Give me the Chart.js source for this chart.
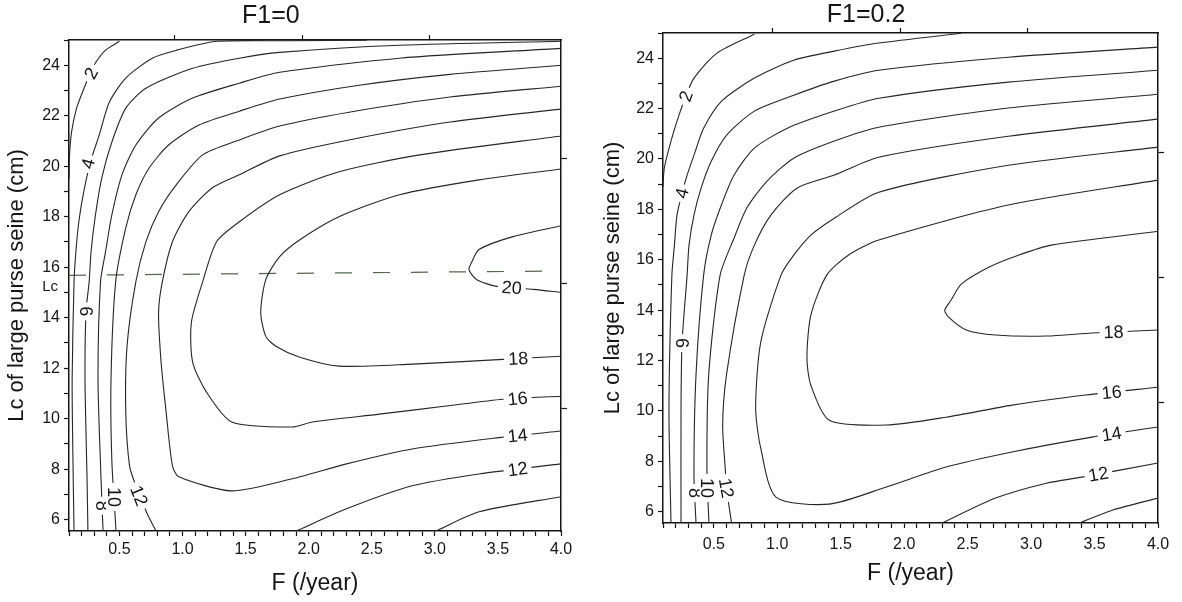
<!DOCTYPE html>
<html>
<head>
<meta charset="utf-8">
<title>Yield contours</title>
<script src="https://cdn.jsdelivr.net/npm/chart.js@4.4.0/dist/chart.umd.min.js"></script>
<style>
  html, body { margin: 0; padding: 0; background: #fff; }
  body { width: 1182px; height: 602px; position: relative; overflow: hidden; }
  .panel { position: absolute; top: 0; height: 602px; }
  #left { left: 0; width: 592px; }
  #right { left: 600px; width: 582px; }
</style>
</head>
<body>
<div class="panel" id="left"><canvas id="chartF0"></canvas></div>
<div class="panel" id="right"><canvas id="chartF02"></canvas></div>
<script>
// axis ranges
const fRange = [0.1, 4.0];
const lcRange = [5.55, 25];

// ---- F1 = 0 : contour lines, [F, Lc] ----
const f0_c2 = [[0.50,24.95],[0.39,24.6],[0.31,24.1],[0.27,23.7],[0.22,23.1],[0.16,22.3],[0.12,21.35],[0.105,20.5],[0.1,19.5]];
const f0_c4 = [[2.46,24.99],[1.85,24.97],[1.27,24.95],[0.95,24.59],[0.76,24.28],[0.55,23.49],[0.42,22.54],[0.34,21.24],[0.275,20.25],[0.22,19.07],[0.18,17.88],[0.156,16.7],[0.14,15.43],[0.125,11.56],[0.13,8.8],[0.14,5.55]];
const f0_c6 = [[4.0,24.95],[2.72,24.79],[1.77,24.51],[1.45,24.28],[1.08,23.88],[0.71,23.09],[0.55,22.3],[0.44,20.96],[0.36,19.54],[0.31,18.08],[0.275,16.62],[0.26,15.43],[0.235,14.25],[0.227,11.56],[0.243,7.62],[0.25,5.55]];
const f0_c8 = [[4.0,24.67],[2.72,24.28],[1.77,23.72],[1.45,23.29],[1.08,22.7],[0.81,21.91],[0.63,20.84],[0.52,19.66],[0.44,18.08],[0.39,16.62],[0.35,15.43],[0.33,11.56],[0.354,7.62],[0.37,5.55]];
const f0_c10 = [[4.0,24.0],[3.12,23.64],[2.4,23.21],[1.77,22.66],[1.45,22.18],[1.13,21.63],[0.89,20.84],[0.735,19.93],[0.63,18.87],[0.55,17.56],[0.47,15.43],[0.433,11.56],[0.44,8.29],[0.473,5.55]];
const f0_c10b = [[3.01,5.55],[3.35,6.31],[4.0,6.91]];
const f0_c12 = [[4.0,23.17],[3.12,22.74],[2.32,22.14],[1.77,21.59],[1.45,21.04],[1.16,20.45],[0.95,19.26],[0.81,18.2],[0.71,17.01],[0.63,15.43],[0.56,12.87],[0.55,10.26],[0.58,8.13],[0.63,7.34],[0.72,6.23],[0.79,5.55]];
const f0_c12b = [[1.9,5.55],[2.3,6.43],[2.82,7.34],[3.35,7.81],[4.0,8.21]];
const f0_c14 = [[4.0,22.26],[3.12,21.75],[2.32,21.04],[1.77,20.41],[1.45,19.66],[1.235,19.14],[1.05,18.2],[0.92,17.01],[0.84,15.43],[0.81,14.21],[0.83,12.24],[0.87,10.26],[0.92,8.13],[0.97,7.7],[1.39,7.14],[1.87,7.62],[2.3,8.21],[2.82,8.8],[3.54,9.27],[4.0,9.51]];
const f0_c16 = [[4.0,21.2],[2.88,20.45],[2.24,19.78],[1.77,18.87],[1.45,17.8],[1.27,17.01],[1.16,15.43],[1.07,13.81],[1.08,12.24],[1.19,11.05],[1.39,9.87],[1.87,9.67],[2.03,9.87],[2.56,10.18],[3.09,10.5],[3.54,10.77],[4.0,10.89]];
const f0_c18 = [[4.0,19.89],[3.35,19.46],[2.72,18.87],[2.24,18.0],[1.93,17.09],[1.77,16.42],[1.66,15.51],[1.62,14.21],[1.66,13.26],[1.74,12.87],[1.93,12.43],[2.24,12.08],[2.82,12.16],[3.54,12.35],[4.0,12.47]];
const f0_c20 = [[4.0,17.64],[3.62,17.21],[3.35,16.7],[3.29,16.18],[3.27,15.91],[3.33,15.51],[3.49,15.24],[3.78,15.12],[4.0,15.0]];
const f0_lcLine = [[0.1,15.68],[4.0,15.85]];
const f0_lcText = 15.22;
const f0_labelText = ['2','4','6','8','10','12','12','14','16','18','20'];
const f0_labelAt = [[0.275,23.68],[0.25,20.1],[0.235,14.25],[0.362,6.55],[0.457,6.9],[0.656,6.95],[3.656,8.0],[3.656,9.33],[3.656,10.8],[3.66,12.38],[3.61,15.19]];
const f0_topMarks = [0.94, 1.95, 2.96];
const f0_rightMarks = [10.4, 15.36, 20.3];

// ---- F1 = 0.2 : contour lines, [F, Lc] ----
const f02_c2 = [[0.82,24.95],[0.525,24.2],[0.344,23.21],[0.28,22.49],[0.226,21.74],[0.163,20.71],[0.11,19.63],[0.1,18.9]];
const f02_c4 = [[2.45,24.99],[1.8,24.6],[1.45,24.28],[1.13,23.92],[0.82,23.21],[0.56,22.29],[0.42,21.22],[0.344,20.15],[0.29,19.36],[0.25,18.64],[0.21,17.77],[0.19,16.58],[0.17,15.39],[0.147,10.11],[0.163,5.55]];
const f02_c6 = [[4.0,24.44],[2.82,24.04],[1.8,23.52],[1.45,23.09],[1.13,22.53],[0.82,21.9],[0.6,20.94],[0.48,19.91],[0.4,18.84],[0.344,17.77],[0.305,16.58],[0.29,15.39],[0.25,12.69],[0.242,10.11],[0.242,5.55]];
const f02_c8 = [[4.0,23.52],[2.82,23.05],[1.8,22.41],[1.45,21.9],[1.08,21.22],[0.82,20.43],[0.66,19.36],[0.56,18.17],[0.48,16.98],[0.42,15.39],[0.36,11.42],[0.344,7.45],[0.36,5.55]];
const f02_c10 = [[4.0,22.57],[2.82,22.02],[1.8,21.26],[1.45,20.71],[1.13,20.03],[0.92,19.12],[0.76,18.05],[0.66,16.86],[0.55,15.39],[0.46,11.42],[0.446,7.73],[0.462,5.55]];
const f02_c10b = [[3.38,5.55],[3.64,6.06],[4.0,6.54]];
const f02_c12 = [[4.0,21.58],[2.82,20.9],[1.8,20.07],[1.45,19.36],[1.155,18.84],[0.95,17.77],[0.82,16.58],[0.74,15.39],[0.6,11.42],[0.57,9.44],[0.59,7.73],[0.6,6.94],[0.64,5.55]];
const f02_c12b = [[2.3,5.55],[2.72,6.54],[3.12,7.13],[3.4,7.37],[4.0,7.93]];
const f02_c14 = [[4.0,20.47],[2.82,19.75],[1.8,18.68],[1.45,17.65],[1.265,16.98],[1.13,16.18],[1.03,15.39],[0.87,12.73],[0.83,10.11],[0.87,8.52],[0.99,6.58],[1.41,6.3],[1.86,6.98],[2.33,7.77],[2.85,8.37],[3.48,8.96],[4.0,9.36]];
const f02_c16 = [[4.0,19.16],[2.82,18.17],[1.8,16.78],[1.56,16.18],[1.39,15.39],[1.265,13.8],[1.234,12.1],[1.265,11.02],[1.41,9.63],[1.86,9.44],[2.33,9.75],[2.85,10.23],[3.43,10.63],[4.0,10.94]];
const f02_c18 = [[4.0,17.13],[3.16,16.58],[2.9,16.18],[2.67,15.71],[2.45,15.03],[2.37,14.4],[2.32,14.0],[2.35,13.72],[2.49,13.21],[2.72,13.01],[3.12,12.97],[3.48,13.09],[4.0,13.21]];
const f02_labelText = ['2','4','6','8','10','12','12','14','16','18'];
const f02_labelAt = [[0.28,22.49],[0.25,18.64],[0.25,12.69],[0.35,6.74],[0.45,6.94],[0.6,6.94],[3.53,7.49],[3.635,9.08],[3.635,10.74],[3.65,13.13]];
const f02_topMarks = [0.96, 1.97, 2.97];
const f02_rightMarks = [10.35, 15.31, 20.27];

const titleAtF = 1.7;

// styles
const FONT = '"Liberation Sans", Arial, Helvetica, sans-serif';
const INK = '#151515';
const f0_labelAngle = [-62, -75, 90, 90, 90, 68, -8, -6, -6, -3, 5];
const f02_labelAngle = [-70, -76, 90, 90, 90, 80, -10, -9, -6, -2];

Chart.defaults.font.family = FONT;
Chart.defaults.color = INK;

function contour(pts) {
  return {
    data: pts.map(p => ({ x: p[0], y: p[1] })),
    showLine: true,
    borderColor: '#262626',
    borderWidth: 1.1,
    pointRadius: 0,
    tension: 0.25,
    fill: false,
    xAxisID: 'x',
    yAxisID: 'y'
  };
}

function dashed(pts) {
  return {
    data: pts.map(p => ({ x: p[0], y: p[1] })),
    showLine: true,
    borderColor: '#56664f',
    borderWidth: 1.2,
    borderDash: [17, 21],
    pointRadius: 0,
    tension: 0,
    xAxisID: 'x',
    yAxisID: 'y'
  };
}

// contour labels, panel title and the "Lc" marker text
function panelText(p) {
  return {
    id: 'panelText',
    afterDatasetsDraw(chart) {
      const { ctx, chartArea, scales: { x, y } } = chart;
      ctx.save();
      ctx.font = '18px ' + FONT;
      ctx.textAlign = 'center';
      ctx.textBaseline = 'middle';
      p.labelText.forEach((t, i) => {
        const px = x.getPixelForValue(p.labelAt[i][0]);
        const py = y.getPixelForValue(p.labelAt[i][1]);
        const w = ctx.measureText(t).width + 8;
        ctx.save();
        ctx.translate(px, py);
        ctx.rotate(p.labelAngle[i] * Math.PI / 180);
        ctx.fillStyle = '#fff';
        ctx.fillRect(-w / 2, -8, w, 16);
        ctx.fillStyle = INK;
        ctx.fillText(t, 0, 1);
        ctx.restore();
      });

      ctx.fillStyle = INK;
      ctx.font = '25px ' + FONT;
      ctx.fillText(p.title, x.getPixelForValue(titleAtF), p.titleY);

      if (p.lcText !== undefined) {
        ctx.font = '15px ' + FONT;
        ctx.textAlign = 'right';
        ctx.fillText('Lc', chartArea.left - 11, y.getPixelForValue(p.lcText));
      }
      ctx.restore();
    }
  };
}

function makeChart(id, p) {
  const tickFont = { size: 16 };
  new Chart(document.getElementById(id), {
    type: 'scatter',
    data: { datasets: p.lines.map(contour).concat(p.dash ? [dashed(p.dash)] : []) },
    options: {
      responsive: true,
      maintainAspectRatio: false,
      animation: false,
      events: [],
      layout: { padding: { top: p.top, right: p.right, left: 0, bottom: 0 } },
      plugins: { legend: { display: false }, tooltip: { enabled: false }, title: { display: false } },
      scales: {
        x: {
          type: 'linear', position: 'bottom',
          min: fRange[0], max: fRange[1],
          ticks: {
            stepSize: 0.1, autoSkip: false, maxRotation: 0, font: tickFont, padding: p.xPad,
            callback: v => Math.abs(v * 2 - Math.round(v * 2)) < 1e-6 && v > 0.3 ? v.toFixed(1) : ''
          },
          grid: { drawOnChartArea: false, tickLength: 5, tickColor: INK, tickWidth: 1.2 },
          border: { display: true, color: INK, width: 1.5 },
          title: { display: true, text: 'F (/year)', font: { size: 23 }, padding: { top: 0, bottom: p.xTitlePad } },
          afterFit: s => { s.height = p.xHeight; }
        },
        y: {
          type: 'linear', position: 'left',
          min: lcRange[0], max: lcRange[1],
          ticks: {
            stepSize: 1, autoSkip: false, includeBounds: false, font: tickFont, padding: 4,
            callback: v => Math.round(v) % 2 === 0 && v < 25 ? String(v) : ''
          },
          grid: { drawOnChartArea: false, tickLength: 5, tickColor: INK, tickWidth: 1.2 },
          border: { display: true, color: INK, width: 1.5 },
          title: { display: true, text: 'Lc of large purse seine (cm)', font: { size: 22 }, padding: { top: p.yTitlePad, bottom: 0 } },
          afterFit: s => { s.width = p.yWidth; }
        },
        x2: {
          type: 'linear', position: 'top',
          min: fRange[0], max: fRange[1],
          afterBuildTicks: s => { s.ticks = p.topMarks.map(v => ({ value: v })); },
          ticks: { display: false },
          grid: { drawOnChartArea: false, tickLength: 5, tickColor: INK, tickWidth: 1.2 },
          border: { display: true, color: INK, width: 1.5 },
          afterFit: s => { s.height = 0; }
        },
        y2: {
          type: 'linear', position: 'right',
          min: lcRange[0], max: lcRange[1],
          afterBuildTicks: s => { s.ticks = p.rightMarks.map(v => ({ value: v })); },
          ticks: { display: false },
          grid: { drawOnChartArea: false, tickLength: 6, tickColor: INK, tickWidth: 1.2 },
          border: { display: true, color: INK, width: 1.5 },
          afterFit: s => { s.width = 0; }
        }
      }
    },
    plugins: [panelText(p)]
  });
}

makeChart('chartF0', {
  lines: [f0_c2, f0_c4, f0_c6, f0_c8, f0_c10, f0_c10b, f0_c12, f0_c12b, f0_c14, f0_c16, f0_c18, f0_c20],
  dash: f0_lcLine,
  lcText: f0_lcText,
  labelText: f0_labelText, labelAt: f0_labelAt, labelAngle: f0_labelAngle,
  topMarks: f0_topMarks, rightMarks: f0_rightMarks,
  title: 'F1=0', titleY: 16,
  top: 40, right: 31, yWidth: 69, xHeight: 71, xPad: 4, xTitlePad: 5, yTitlePad: 4
});

makeChart('chartF02', {
  lines: [f02_c2, f02_c4, f02_c6, f02_c8, f02_c10, f02_c10b, f02_c12, f02_c12b, f02_c14, f02_c16, f02_c18],
  labelText: f02_labelText, labelAt: f02_labelAt, labelAngle: f02_labelAngle,
  topMarks: f02_topMarks, rightMarks: f02_rightMarks,
  title: 'F1=0.2', titleY: 15,
  top: 33, right: 24, yWidth: 63, xHeight: 79, xPad: 7, xTitlePad: 15, yTitlePad: 0
});
</script>
</body>
</html>
